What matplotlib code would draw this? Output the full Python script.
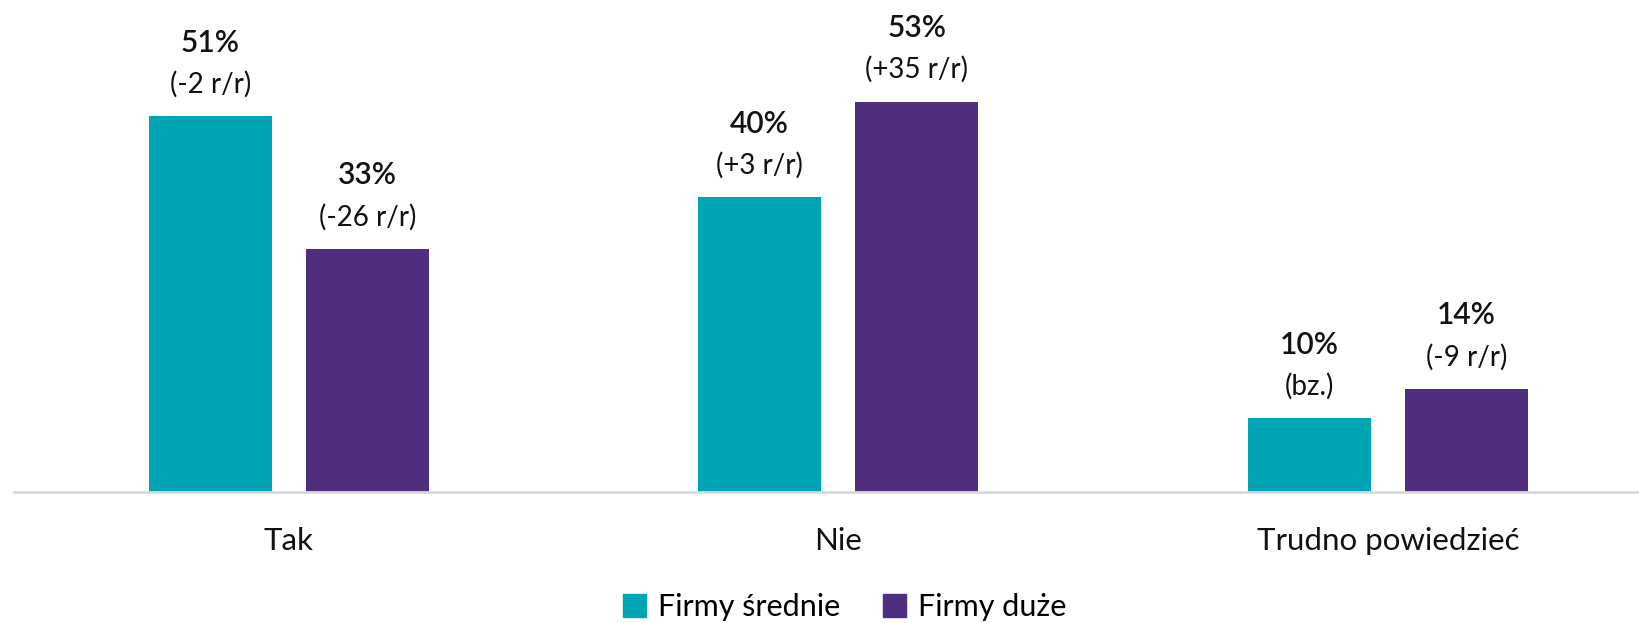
import matplotlib

matplotlib.use("Agg")

import matplotlib.pyplot as plt
import numpy as np
from matplotlib.patches import Patch

TEAL = "#00A5B5"
PURPLE = "#4F2D7F"

categories = ["Tak", "Nie", "Trudno powiedzieć"]
series_names = ["Firmy średnie", "Firmy duże"]
srednie = [51, 40, 10]
duze = [33, 53, 14]
srednie_change = ["(-2 r/r)", "(+3 r/r)", "(bz.)"]
duze_change = ["(-26 r/r)", "(+35 r/r)", "(-9 r/r)"]

plt.rcParams["font.family"] = ["Lato", "DejaVu Sans"]

fig = plt.figure(figsize=(16.39, 6.23), dpi=100)
ax = fig.add_axes([14 / 1639, 1 - 492 / 623, 1 - 14 / 1639, 492 / 623])

x = np.arange(len(categories))
width = 0.224
offset = 0.143

for vals, changes, color, sign in [
    (srednie, srednie_change, TEAL, -1),
    (duze, duze_change, PURPLE, 1),
]:
    xs = x + sign * offset
    ax.bar(xs, vals, width=width, color=color, zorder=2)
    for xi, v, ch in zip(xs, vals, changes):
        ax.annotate(f"{v}%", (xi, v), xytext=(0, 53), textcoords="offset points",
                    ha="center", va="center", fontsize=21.5, fontweight="semibold", color="#111111")
        ax.annotate(ch, (xi, v), xytext=(0, 23), textcoords="offset points",
                    ha="center", va="center", fontsize=20, color="#111111")

ax.set_xlim(-0.5, 2.457)
ax.set_ylim(0, 66.8)
ax.set_xticks(x)
ax.set_xticklabels(categories, fontsize=22.5, color="#111111")
ax.tick_params(axis="x", length=0, pad=25)
ax.set_yticks([])
for side in ["top", "right", "left"]:
    ax.spines[side].set_visible(False)
ax.spines["bottom"].set_color("#d9d9d9")
ax.spines["bottom"].set_linewidth(2)
ax.patch.set_alpha(0)

handles = [Patch(color=TEAL), Patch(color=PURPLE)]
fig.legend(handles, series_names, loc="center", bbox_to_anchor=(845 / 1639, 1 - 607 / 623),
           ncol=2, frameon=False, fontsize=22, handlelength=0.75, handleheight=0.75,
           handletextpad=0.4, columnspacing=1.4)

fig.savefig("out.png", dpi=100)
